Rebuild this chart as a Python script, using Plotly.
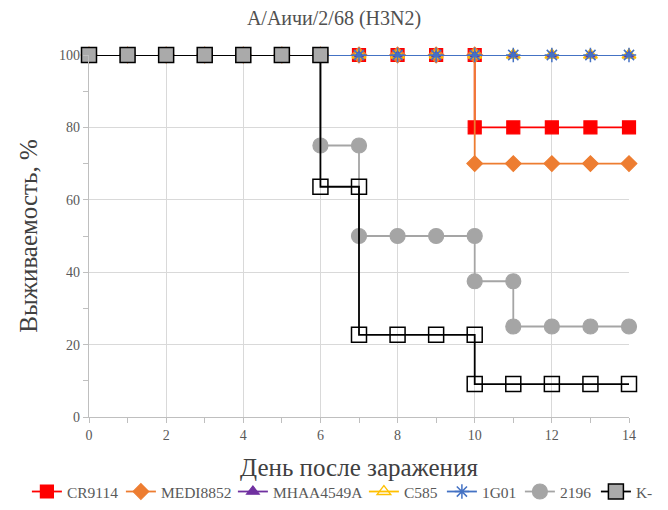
import plotly.graph_objects as go

days = [0, 1, 2, 3, 4, 5, 6, 7, 8, 9, 10, 11, 12, 13, 14]

# step curves: x and y lists (duplicated x at drops)
cr9114_x = [0, 1, 2, 3, 4, 5, 6, 7, 8, 9, 10, 10, 11, 12, 13, 14]
cr9114_y = [100, 100, 100, 100, 100, 100, 100, 100, 100, 100, 100, 80, 80, 80, 80, 80]

medi_x = [0, 1, 2, 3, 4, 5, 6, 7, 8, 9, 10, 10, 11, 12, 13, 14]
medi_y = [100, 100, 100, 100, 100, 100, 100, 100, 100, 100, 100, 70, 70, 70, 70, 70]

mhaa_x = days
mhaa_y = [100] * 15

c585_x = days
c585_y = [100] * 15

g01_x = days
g01_y = [100] * 15

s2196_x = [0, 1, 2, 3, 4, 5, 6, 6, 7, 7, 8, 9, 10, 10, 11, 11, 12, 13, 14]
s2196_y = [100, 100, 100, 100, 100, 100, 100, 75, 75, 50, 50, 50, 50, 37.5, 37.5, 25, 25, 25, 25]

k_x = [0, 1, 2, 3, 4, 5, 6, 6, 7, 7, 8, 9, 10, 10, 11, 12, 13, 14]
k_y = [100, 100, 100, 100, 100, 100, 100, 63.6, 63.6, 22.7, 22.7, 22.7, 22.7, 9.1, 9.1, 9.1, 9.1, 9.1]

x_ticks = [0, 2, 4, 6, 8, 10, 12, 14]
y_ticks = [0, 20, 40, 60, 80, 100]

SERIF = "Liberation Serif, Times New Roman, serif"

fig = go.Figure()

def add(name, x, y, color, symbol, size, lwid, fill=None, lw=1.8, mlw=1.2):
    fig.add_trace(go.Scatter(
        x=x, y=y, name=name, mode="lines+markers",
        line=dict(color=color, width=lw),
        marker=dict(symbol=symbol, size=size,
                    color=fill if fill is not None else color,
                    line=dict(color=color, width=mlw)),
        cliponaxis=False, legendwidth=lwid,
    ))

add("CR9114", cr9114_x, cr9114_y, "#FF0000", "square", 13, 49)
add("MEDI8852", medi_x, medi_y, "#ED7D31", "diamond", 12, 67)
add("MHAA4549A", mhaa_x, mhaa_y, "#7030A0", "triangle-up", 11, 86)
add("C585", c585_x, c585_y, "#FFC000", "triangle-up-open", 12, 33, mlw=1.3)
add("1G01", g01_x, g01_y, "#4472C4", "asterisk-open", 12, 33, mlw=1.5)
add("2196", s2196_x, s2196_y, "#A5A5A5", "circle", 15, 31)

k_fill = ["#AAAAAA" if (xx <= 6 and yy == 100) else "rgba(0,0,0,0)" for xx, yy in zip(k_x, k_y)]
fig.add_trace(go.Scatter(
    x=k_x, y=k_y, name="K-", mode="lines+markers",
    line=dict(color="#000000", width=1.8),
    marker=dict(symbol="square", size=15, color=k_fill,
                line=dict(color="#000000", width=1.5)),
    cliponaxis=False, legendwidth=16,
))

fig.update_layout(
    width=668, height=510,
    paper_bgcolor="white", plot_bgcolor="white",
    margin=dict(l=89, r=39, t=55, b=93, autoexpand=False),
    title=dict(text="А/Аичи/2/68 (H3N2)", x=0.5, xref="container", xanchor="center",
               y=0.965, yanchor="middle",
               font=dict(family=SERIF, size=20, color="#505050")),
    font=dict(family=SERIF, color="#595959"),
    showlegend=True,
    legend=dict(orientation="h", x=-0.115, xanchor="left",
                y=-0.207, yanchor="middle",
                font=dict(family=SERIF, size=15.5, color="#595959"),
                itemwidth=30,
                tracegroupgap=0, traceorder="normal"),
)

fig.update_xaxes(
    range=[0, 14], tickvals=x_ticks, ticktext=[str(v) for v in x_ticks],
    showgrid=True, gridcolor="#D9D9D9", gridwidth=1.3,
    showline=True, linecolor="#BFBFBF", linewidth=1.3,
    ticks="outside", ticklen=5, tickcolor="#BFBFBF",
    minor=dict(dtick=1, ticks="outside", ticklen=5, tickcolor="#BFBFBF", showgrid=False),
    zeroline=False,
    tickfont=dict(family=SERIF, size=14, color="#595959"),
    title=dict(text="День после заражения", standoff=16,
               font=dict(family=SERIF, size=25, color="#404040")),
)
fig.update_yaxes(
    range=[0, 100], tickvals=y_ticks, ticktext=[str(v) for v in y_ticks],
    showgrid=True, gridcolor="#D9D9D9", gridwidth=1.3,
    showline=True, linecolor="#BFBFBF", linewidth=1.3,
    ticks="outside", ticklen=5, tickcolor="#BFBFBF",
    minor=dict(dtick=10, ticks="outside", ticklen=5, tickcolor="#BFBFBF", showgrid=False),
    zeroline=False,
    tickfont=dict(family=SERIF, size=14, color="#595959"),
    title=dict(text="Выживаемость, %", standoff=14,
               font=dict(family=SERIF, size=25, color="#404040")),
)

fig.write_html("out.html", config={"displayModeBar": False},
               post_script="document.body.style.margin='0px';")
